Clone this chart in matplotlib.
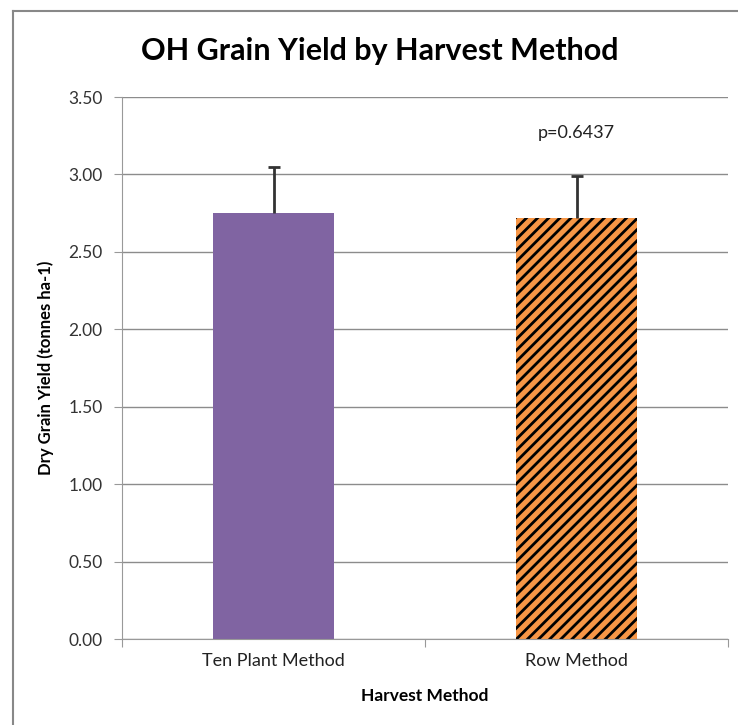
import numpy as np
import matplotlib
matplotlib.use('Agg')
from matplotlib import pyplot as plt
from matplotlib.lines import Line2D

# data
methods = ['Ten Plant Method', 'Row Method']
yield_means = [2.75, 2.72]
yield_err = [0.30, 0.27]
p_text = 'p=0.6437'
yticks = [0.0, 0.5, 1.0, 1.5, 2.0, 2.5, 3.0, 3.5]

plt.rcParams['font.family'] = ['Lato', 'DejaVu Sans']
plt.rcParams['hatch.linewidth'] = 2.0

fig = plt.figure(figsize=(7.38, 7.25), dpi=100)
ax = fig.add_axes([0.1653, 0.1186, 0.8212, 0.7476])

x = np.arange(len(methods))
ax.bar(x[0], yield_means[0], width=0.4, color='#8064A2', zorder=2)
ax.bar(x[1], yield_means[1], width=0.4, color='#F79646', edgecolor='black',
       linewidth=0, hatch='///', zorder=2)
eb = ax.errorbar(x, yield_means, yerr=[[0, 0], yield_err], fmt='none', ecolor='#333333',
                 elinewidth=2, capsize=4, capthick=2, zorder=3)
# only the upper cap is wanted
eb[1][0].set_visible(False)

ax.set_xlim(-0.5, 1.5)
ax.set_ylim(0, 3.5)
ax.set_yticks(yticks)
ax.set_yticklabels(['%.2f' % v for v in yticks])
ax.set_xticks([-0.5, 0.5, 1.5], minor=False)
ax.set_xticklabels([])
ax.set_xticks(x, minor=True)
ax.set_xticklabels(methods, minor=True)
ax.tick_params(axis='x', which='minor', length=0, pad=10, labelsize=13, labelcolor='#222222')
ax.tick_params(axis='x', which='major', length=6, color='#999999', direction='out')
ax.tick_params(axis='y', length=6, color='#999999', labelsize=12.5, labelcolor='#333333', pad=8)

ax.grid(axis='y', color='#8c8c8c', linewidth=1, zorder=0)
for s in ['top', 'right']:
    ax.spines[s].set_visible(False)
for s in ['left', 'bottom']:
    ax.spines[s].set_color('#999999')

ax.set_ylabel('Dry Grain Yield (tonnes ha-1)', fontsize=12, fontweight='bold', labelpad=10)
ax.set_xlabel('Harvest Method', fontsize=12.5, fontweight='bold', labelpad=14)
ax.text(1.0, 3.27, p_text, fontsize=13, ha='center', va='center', color='#222222')

fig.text(0.515, 0.93, 'OH Grain Yield by Harvest Method', fontsize=22,
         fontweight='bold', ha='center', va='center')

# frame around the chart (left and top visible)
fig.add_artist(Line2D([13/738, 13/738], [0, 1 - 11/725], transform=fig.transFigure,
                      color='#888888', linewidth=1.5))
fig.add_artist(Line2D([13/738, 1], [1 - 11/725, 1 - 11/725], transform=fig.transFigure,
                      color='#888888', linewidth=1.5))

fig.savefig('out.png', dpi=100)
